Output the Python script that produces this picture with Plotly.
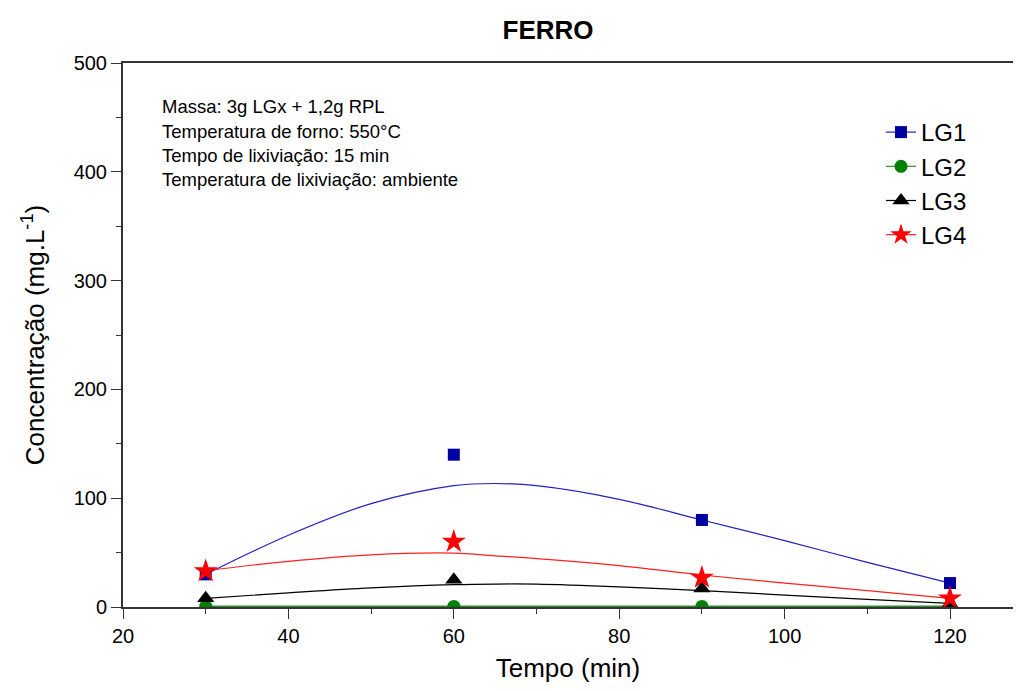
import plotly.graph_objects as go

# Measured points
tempo = [30, 60, 90, 120]
lg1 = [30, 140, 80, 22]
lg2 = [0.5, 0.5, 0.5, 0.5]
lg3 = [8, 25, 17, 3]
lg4 = [33, 60, 27, 8]

# Fitted curves
fit_x = [30, 40, 50, 60, 65, 70, 80, 90, 100, 110, 120]
lg1_fit = [30, 66, 95, 111.5, 113.5, 111.5, 99, 80, 61, 41, 22]
lg2_fit = [0.4, 0.4, 0.4, 0.4, 0.4, 0.4, 0.4, 0.4, 0.4, 0.4, 0.4]
lg3_fit = [8, 13, 17.5, 20.5, 21.1, 21, 18.5, 15, 11, 7, 3.4]
lg4_fit = [33.4, 42, 48, 49.5, 47, 44.5, 38, 29.4, 22, 15, 8]

names = ["LG1", "LG2", "LG3", "LG4"]
info_lines = [
    "Massa: 3g LGx + 1,2g RPL",
    "Temperatura de forno: 550°C",
    "Tempo de lixiviação: 15 min",
    "Temperatura de lixiviação: ambiente",
]

FONT = "Arial, Liberation Sans, sans-serif"

series = [
    (names[0], lg1, lg1_fit, "#0000A0", "#2222C0", "square", 12, 1.2),
    (names[1], lg2, lg2_fit, "#008000", "#2A8F2A", "circle", 13, 2),
    (names[2], lg3, lg3_fit, "#000000", "#000000", "triangle-up", 15, 1.2),
    (names[3], lg4, lg4_fit, "#FF0000", "#FF2020", "star", 18, 1.2),
]

fig = go.Figure()
for name, ys, fit, mcol, lcol, sym, sz, lw in series:
    fig.add_trace(go.Scatter(
        x=fit_x, y=fit, mode="lines", line=dict(color=lcol, width=lw, shape="spline"),
        showlegend=False, hoverinfo="skip"))
for name, ys, fit, mcol, lcol, sym, sz, lw in series:
    fig.add_trace(go.Scatter(
        x=tempo, y=ys, mode="markers", name=name, cliponaxis=True,
        marker=dict(symbol=sym, size=sz, color=mcol, line=dict(width=0)),
        showlegend=False))
# legend entries (line + marker)
for name, ys, fit, mcol, lcol, sym, sz, lw in series:
    fig.add_trace(go.Scatter(
        x=[None], y=[None], mode="lines+markers", name=name,
        line=dict(color=lcol, width=1.2),
        marker=dict(symbol=sym, size=sz, color=mcol, line=dict(width=0))))

# page body has an 8px margin: figure placed at (8, 8)
OFF = 8
W, H = 1005, 675
R = 0
L, T = 123 - OFF, 63 - OFF
B = H - (607 - OFF)
PW = W - L - R
PH = H - T - B
XR = [20, 20 + PW / 8.27]

fig.update_layout(
    width=W, height=H,
    margin=dict(l=L, r=R, t=T, b=B, autoexpand=False),
    plot_bgcolor="white", paper_bgcolor="white",
    font=dict(family=FONT, color="black"),
    title=dict(text="<b>FERRO</b>", x=(548 - OFF) / W, xref="container", xanchor="center",
               y=1 - (30 - OFF) / H, yref="container", yanchor="middle",
               font=dict(size=26, family=FONT)),
    xaxis=dict(range=XR, showgrid=False, zeroline=False, showline=True, linecolor="#333",
               linewidth=2, mirror=True, ticks="outside", ticklen=10, tickwidth=1.2,
               tickcolor="#333", dtick=20, tick0=20, tickfont=dict(size=20),
               automargin=False,
               minor=dict(ticks="outside", ticklen=5, dtick=10, tickcolor="#333", tickwidth=1.2),
               title=dict(text="Tempo (min)", font=dict(size=26), standoff=33)),
    xaxis2=dict(range=XR, overlaying="x", side="top", anchor="y",
                showgrid=False,
                zeroline=False, showline=False, showticklabels=False, ticks="inside",
                ticklen=10, tickwidth=1.2, tickcolor="#333", dtick=20, tick0=20,
                automargin=False,
                minor=dict(ticks="inside", ticklen=5, dtick=10, tickcolor="#333", tickwidth=1.2)),
    yaxis=dict(range=[0, 500], showgrid=False, zeroline=False, showline=True, linecolor="#333",
               linewidth=2, mirror=False, ticks="outside", ticklen=10, tickwidth=1.2, tickcolor="#333",
               dtick=100, tickfont=dict(size=20), automargin=False,
               minor=dict(ticks="outside", ticklen=5, dtick=50, tickcolor="#333", tickwidth=1.2),
               title=dict(text="Concentração (mg.L<sup>-1</sup>)", font=dict(size=26), standoff=22)),
    legend=dict(x=(881 - 123) / PW, y=1 - (110 - 63) / PH, xanchor="left", yanchor="top",
                bgcolor="rgba(0,0,0,0)", font=dict(size=24, family=FONT), tracegroupgap=0,
                itemwidth=30),
    showlegend=True,
)

line_y = [106, 131, 155, 179]
for txt, py in zip(info_lines, line_y):
    fig.add_annotation(text=txt, xref="paper", yref="paper",
                       x=(160 - 123) / PW, y=1 - (py - 63) / PH,
                       xanchor="left", yanchor="middle", showarrow=False,
                       font=dict(size=18.5, family=FONT, color="black"))

fig.write_html("out.html")
